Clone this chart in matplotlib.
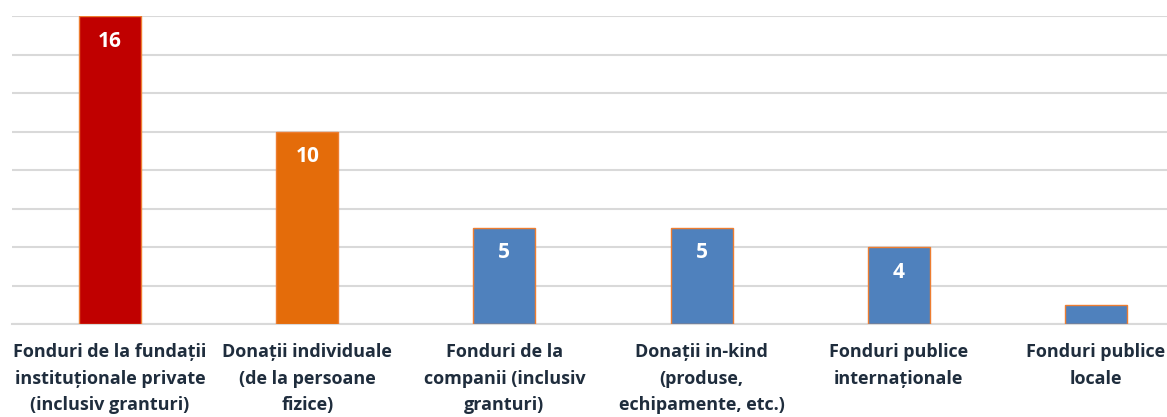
import matplotlib.pyplot as plt
import numpy as np

plt.rcParams['font.family'] = ['Open Sans', 'DejaVu Sans']

labels = ['Fonduri de la fundații\ninstituționale private\n(inclusiv granturi)',
          'Donații individuale\n(de la persoane\nfizice)',
          'Fonduri de la\ncompanii (inclusiv\ngranturi)',
          'Donații in-kind\n(produse,\nechipamente, etc.)',
          'Fonduri publice\ninternaționale',
          'Fonduri publice\nlocale']
values = [16, 10, 5, 5, 4, 1]
colors = ['#C00000', '#E46C0A', '#4F81BD', '#4F81BD', '#4F81BD', '#4F81BD']
shown = [True, True, True, True, True, False]

fig = plt.figure(figsize=(11.67, 4.17), dpi=100)
ax = fig.add_axes([11.5 / 1167, 93 / 417, 1183 / 1167, 308 / 417])

x = np.arange(len(values))
bars = ax.bar(x, values, width=0.315, color=colors, edgecolor='#ED7D31', linewidth=1, zorder=3)

for b, v, s in zip(bars, values, shown):
    if s:
        ax.text(b.get_x() + b.get_width() / 2, v - 1.3, str(v), ha='center', va='center',
                color='white', fontsize=15, fontweight='bold', zorder=4)

ax.set_xlim(-0.5, 5.5)
ax.set_ylim(0, 16)
ax.set_yticks(np.arange(0, 17, 2))
ax.yaxis.grid(True, color='#D9D9D9', linewidth=1.5, zorder=0)
ax.tick_params(axis='y', left=False, labelleft=False)
ax.tick_params(axis='x', length=0, pad=14)
ax.set_xticks(x)
ax.set_xticklabels(labels, fontsize=13, fontweight='bold', color='#1F2D3D', linespacing=1.58)
for sp in ['top', 'right', 'left']:
    ax.spines[sp].set_visible(False)
ax.spines['bottom'].set_color('#D9D9D9')
ax.spines['bottom'].set_linewidth(1.5)

fig.savefig('out.png', dpi=100)
